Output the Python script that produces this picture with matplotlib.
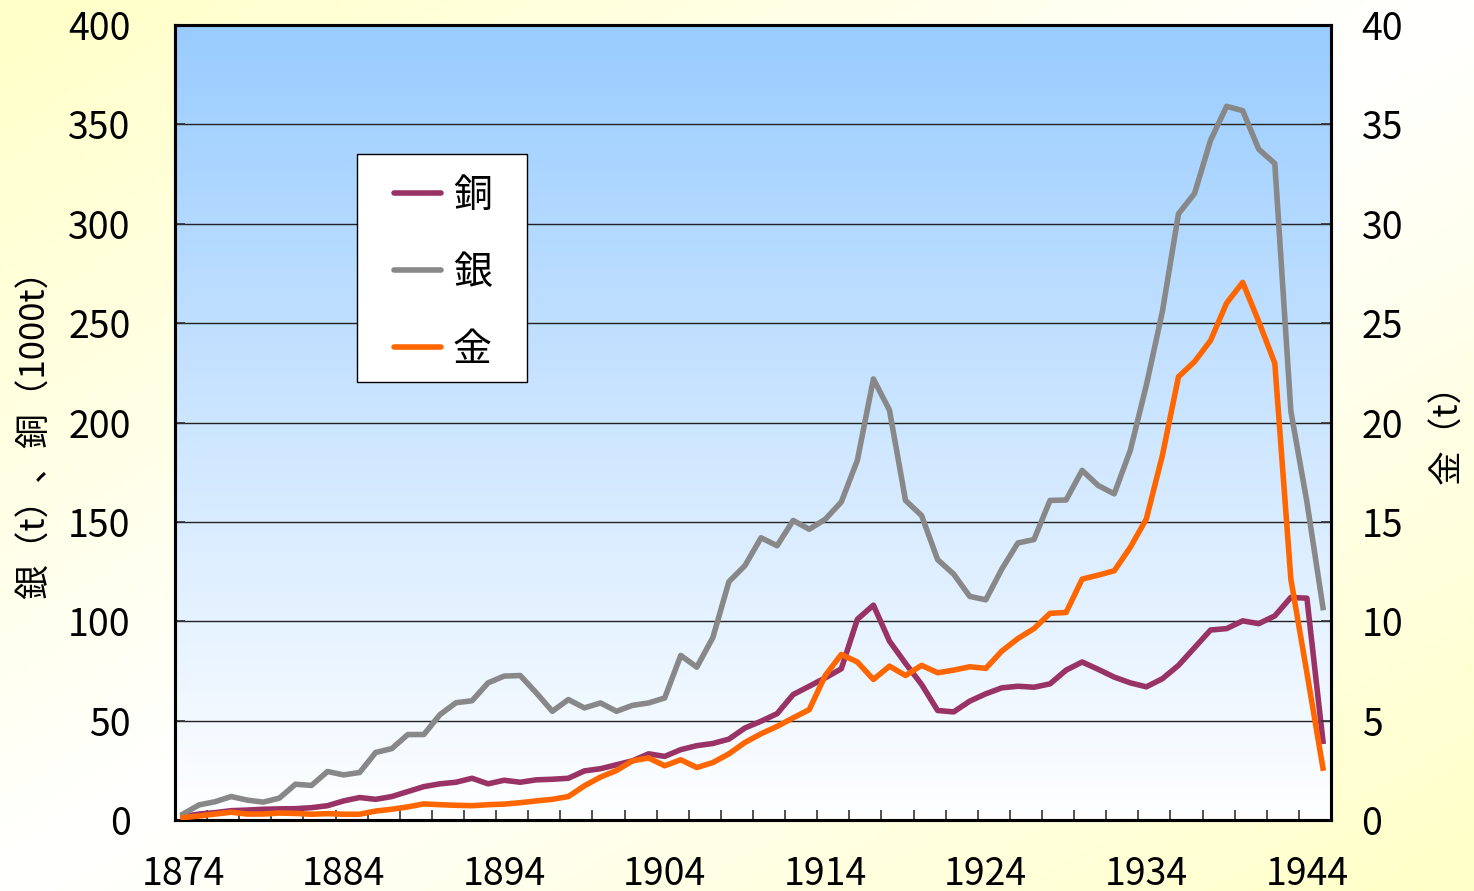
import numpy as np
import matplotlib
matplotlib.use("Agg")
import matplotlib.pyplot as plt
from matplotlib.patches import Rectangle

plt.rcParams['font.family'] = ['Noto Sans CJK JP', 'DejaVu Sans']

# --- Daten ---
years = list(range(1874, 1946))

# 銀 (t)
silver = [3, 7.6, 9.2, 11.8, 10, 9, 11, 18, 17.4, 24.4,
          22.7, 23.9, 34, 35.9, 43, 43, 53, 59, 60, 69,
          72.4, 72.7, 64, 54.7, 60.6, 56.4, 58.9, 54.7, 57.7, 58.9,
          61.4, 82.8, 76.9, 91.8, 119.9, 128, 142, 138, 150.7, 146.3,
          151.3, 160, 181, 221.9, 206.2, 160.8, 153.2, 131, 123.7, 112.5,
          110.8, 126.3, 139.4, 141.1, 160.8, 161, 175.9, 168.3, 164.1, 186,
          218.8, 255.9, 305, 315.2, 342, 359.1, 356.9, 337.5, 330.3, 205.7,
          160, 106.9]

# 銅 (1000t)
copper = [1.7, 3, 3.7, 4.7, 5, 5.4, 5.6, 5.7, 6.2, 7.2,
          9.6, 11.3, 10.4, 11.8, 14.3, 16.8, 18.2, 19, 21, 18.2,
          20, 19, 20.2, 20.5, 21, 24.7, 25.8, 27.8, 29.8, 33.3,
          32, 35.4, 37.4, 38.5, 40.7, 46.3, 49.7, 53.5, 63.1, 67.3,
          71.5, 76.1, 101, 108.1, 90, 78.8, 68.2, 55.1, 54.4, 59.8,
          63.5, 66.5, 67.3, 66.8, 68.5, 75.4, 79.5, 75.8, 71.9, 69,
          67, 71.1, 77.8, 86.7, 95.6, 96.3, 100.2, 98.8, 102.7, 112,
          111.6, 39.6]

# 金 (t)
gold = [0.12, 0.20, 0.30, 0.39, 0.30, 0.30, 0.35, 0.33, 0.29, 0.32,
        0.29, 0.29, 0.45, 0.54, 0.66, 0.81, 0.77, 0.74, 0.72, 0.77,
        0.80, 0.87, 0.96, 1.04, 1.18, 1.72, 2.16, 2.49, 2.98, 3.12,
        2.73, 3.03, 2.64, 2.89, 3.33, 3.90, 4.34, 4.71, 5.14, 5.55,
        7.27, 8.33, 7.95, 7.07, 7.74, 7.27, 7.78, 7.41, 7.54, 7.71,
        7.63, 8.50, 9.13, 9.63, 10.40, 10.44, 12.12, 12.32, 12.54, 13.72,
        15.15, 18.35, 22.30, 23.06, 24.13, 26.01, 27.05, 25.08, 22.98, 12.12,
        7.40, 2.61]

xtick_years = [1874, 1884, 1894, 1904, 1914, 1924, 1934, 1944]
left_ticks = [0, 50, 100, 150, 200, 250, 300, 350, 400]
right_ticks = [0, 5, 10, 15, 20, 25, 30, 35, 40]

labels = ["銅", "銀", "金"]
colors = {"銅": "#993366", "銀": "#888888", "金": "#FF6600"}

W, H = 1474, 891
fig = plt.figure(figsize=(W / 100, H / 100), dpi=100)

# Hintergrund: diagonaler Verlauf gelb -> weiss -> gelb
bg = fig.add_axes([0, 0, 1, 1], zorder=-10)
gx = np.linspace(0, 1, 300)
gy = np.linspace(0, 1, 200)
t = np.abs(gx[None, :] + gy[:, None] - 1.0)
yellow = np.array([1.0, 1.0, 0.78])
white = np.array([1.0, 1.0, 1.0])
img = white * (1 - t)[..., None] + yellow * t[..., None]
bg.imshow(img, extent=(0, 1, 0, 1), origin="upper", aspect="auto")
bg.set_axis_off()

# Plotbereich
x0, x1 = 1873.5, 1945.5
ax = fig.add_axes([175 / W, (H - 820) / H, (1331 - 175) / W, (820 - 25) / H])
g = np.linspace(0, 1, 256)[:, None]
blue = np.array([0.60, 0.80, 1.0])
grad = blue * (1 - g)[..., None] + white * g[..., None]
grad = np.repeat(grad, 2, axis=1)
ax.imshow(grad, extent=(x0, x1, 0, 400), origin="upper", aspect="auto", zorder=0)

for y in left_ticks[1:-1]:
    ax.axhline(y, color="#222222", linewidth=1.0, zorder=1)

lw = 4.0
l_cu, = ax.plot(years, copper, color=colors["銅"], linewidth=lw, zorder=3,
                solid_joinstyle="round", label="銅")
l_ag, = ax.plot(years, silver, color=colors["銀"], linewidth=lw, zorder=3,
                solid_joinstyle="round", label="銀")
ax.set_xlim(x0, x1)
ax.set_ylim(0, 400)

ax2 = ax.twinx()
l_au, = ax2.plot(years, gold, color=colors["金"], linewidth=lw, zorder=3,
                 solid_joinstyle="round", label="金")
ax2.set_ylim(0, 40)
ax2.set_xlim(x0, x1)

for a in (ax, ax2):
    for s in a.spines.values():
        s.set_linewidth(2.2)
        s.set_color("black")

ax.set_xticks(xtick_years)
ax.set_xticklabels([str(y) for y in xtick_years])
ax.set_xticks(np.arange(1875.5, 1945, 2), minor=True)
ax.tick_params(axis="x", which="major", length=0, pad=25, labelsize=27)
ax.tick_params(axis="x", which="minor", direction="in", length=7, width=1.2,
               color="#333333")
ax.set_yticks(left_ticks)
ax.tick_params(axis="y", which="both", direction="in", length=7, width=1.2,
               color="#333333", pad=32, labelsize=27)
ax2.set_yticks(right_ticks)
ax2.tick_params(axis="y", direction="in", length=7, width=1.2,
                color="#333333", pad=22, labelsize=27)

fig.text(35 / W, 1 - 426 / H, "銀（t）、銅（1000t）", rotation=90,
         ha="center", va="center", fontsize=25)
fig.text(1448 / W, 1 - 425 / H, "金（t）", rotation=90,
         ha="center", va="center", fontsize=25)

# Legende mit eigenem Rahmen
frame = Rectangle((357 / W, 1 - 382 / H), 170 / W, 228 / H,
                  transform=fig.transFigure, facecolor="white",
                  edgecolor="black", linewidth=1.0, zorder=4, clip_on=False)
ax2.add_patch(frame)
leg = ax2.legend([l_cu, l_ag, l_au], labels, loc="center",
                 bbox_to_anchor=(443 / W, 1 - 273 / H),
                 bbox_transform=fig.transFigure, frameon=False,
                 fontsize=28, handlelength=1.2, handletextpad=0.3,
                 labelspacing=0.95, borderpad=0)
leg.set_zorder(5)
for h in leg.get_lines():
    h.set_solid_capstyle("round")

fig.savefig("out.png", dpi=100)
plt.close(fig)
